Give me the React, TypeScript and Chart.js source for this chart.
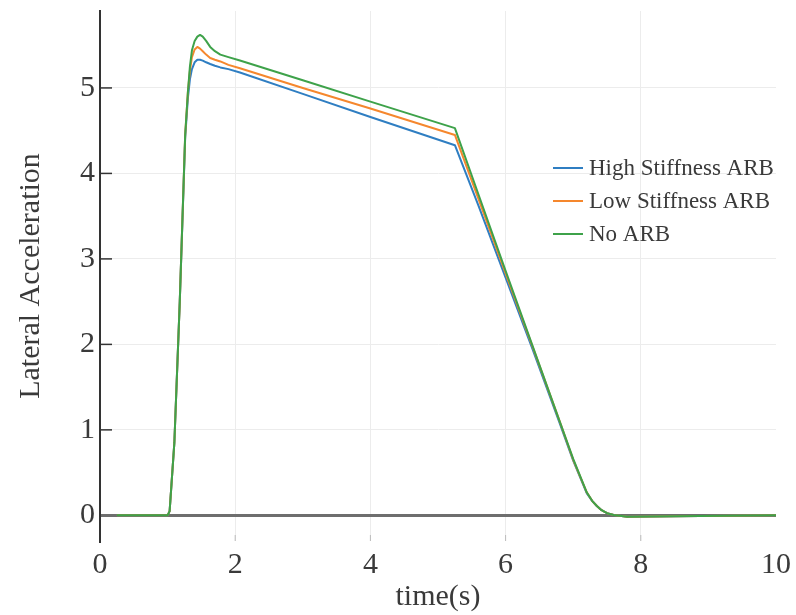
import React, { useEffect, useRef } from "react";
import { Chart, registerables } from "chart.js";

Chart.register(...registerables);

const time = [0.25, 1.0, 1.03, 1.1, 1.18, 1.26, 1.3, 1.33, 1.36, 1.4, 1.44, 1.48, 1.52, 1.57, 1.63, 1.7, 1.78, 1.9, 2.07, 3, 4, 5.25, 5.6, 6.0, 6.4, 6.8, 7.0, 7.2, 7.28, 7.35, 7.42, 7.5, 7.6, 7.8, 8.5, 10];
const highStiffness = [0, 0, 0.05, 0.85, 2.5, 4.42, 4.88, 5.1, 5.22, 5.3, 5.33, 5.33, 5.32, 5.3, 5.28, 5.26, 5.24, 5.22, 5.18, 4.93, 4.66, 4.33, 3.62, 2.78, 1.94, 1.08, 0.64, 0.26, 0.17, 0.11, 0.06, 0.025, 0.005, -0.015, -0.01, 0];
const lowStiffness = [0, 0, 0.05, 0.85, 2.5, 4.45, 4.95, 5.2, 5.36, 5.45, 5.48, 5.46, 5.43, 5.39, 5.35, 5.33, 5.31, 5.27, 5.23, 5.0, 4.76, 4.45, 3.7, 2.83, 1.97, 1.1, 0.65, 0.27, 0.17, 0.11, 0.06, 0.025, 0.005, -0.015, -0.01, 0];
const noArb = [0, 0, 0.05, 0.85, 2.5, 4.45, 4.95, 5.25, 5.44, 5.55, 5.6, 5.62, 5.6, 5.55, 5.48, 5.43, 5.39, 5.36, 5.32, 5.09, 4.84, 4.53, 3.75, 2.86, 1.98, 1.1, 0.66, 0.27, 0.17, 0.11, 0.06, 0.025, 0.005, -0.015, -0.01, 0];

const seriesNames = ["High Stiffness ARB", "Low Stiffness ARB", "No ARB"];
const seriesColors = ["#2f7ec2", "#f5872d", "#3ea24a"];
const xTicks = [0, 2, 4, 6, 8, 10];
const yTicks = [0, 1, 2, 3, 4, 5];

const FONT = "'Liberation Serif', 'Times New Roman', serif";

export default function App() {
  const ref = useRef<HTMLCanvasElement | null>(null);
  useEffect(() => {
    if (!ref.current) return;
    const all = [highStiffness, lowStiffness, noArb];
    const decor = {
      id: "decor",
      afterDatasetsDraw(chart: any) {
        const ctx = chart.ctx;
        const { left, bottom } = chart.chartArea;
        const ys = chart.scales.y;
        const xs = chart.scales.x;
        ctx.save();
        ctx.strokeStyle = "#333";
        ctx.lineWidth = 1.5;
        yTicks.forEach((v) => {
          if (v === 0) return;
          const py = ys.getPixelForValue(v);
          ctx.beginPath();
          ctx.moveTo(left, py);
          ctx.lineTo(left + 12, py);
          ctx.stroke();
        });
        ctx.strokeStyle = "#bbb";
        ctx.lineWidth = 1;
        xTicks.forEach((v) => {
          if (v === 0 || v === 10) return;
          const px = xs.getPixelForValue(v);
          ctx.beginPath();
          ctx.moveTo(px, bottom);
          ctx.lineTo(px, bottom - 6);
          ctx.stroke();
        });
        // legend
        ctx.font = "23px " + FONT;
        ctx.textBaseline = "middle";
        ctx.fillStyle = "#3a3a3a";
        const rows = [168, 201, 234];
        seriesNames.forEach((n, i) => {
          ctx.strokeStyle = seriesColors[i];
          ctx.lineWidth = 2;
          ctx.beginPath();
          ctx.moveTo(553, rows[i]);
          ctx.lineTo(583, rows[i]);
          ctx.stroke();
          ctx.fillText(n, 589, rows[i] + 1);
        });
        ctx.restore();
      },
    };
    const chart = new Chart(ref.current, {
      type: "line",
      data: {
        datasets: seriesNames.map((n, i) => ({
          label: n,
          data: time.map((t, j) => ({ x: t, y: all[i][j] })),
          borderColor: seriesColors[i],
          backgroundColor: seriesColors[i],
          borderWidth: 2,
          pointRadius: 0,
          tension: 0,
          borderJoinStyle: "round" as const,
          order: 2 - i,
        })),
      },
      options: {
        animation: false,
        responsive: false,
        maintainAspectRatio: false,
        layout: { padding: { left: 0, right: 20, top: 11, bottom: 0 } },
        plugins: { legend: { display: false }, tooltip: { enabled: false } },
        scales: {
          x: {
            type: "linear",
            min: 0,
            max: 10,
            afterBuildTicks: (s: any) => {
              s.ticks = xTicks.map((v) => ({ value: v }));
            },
            afterFit: (s: any) => {
              s.height = 74;
              s.paddingLeft = 0;
              s.paddingRight = 0;
            },
            border: { display: false },
            grid: {
              drawTicks: false,
              color: (c: any) => (c.tick && (c.tick.value === 0 || c.tick.value === 10) ? "rgba(0,0,0,0)" : "#ececec"),
              lineWidth: 1,
            },
            ticks: { padding: 6, color: "#3a3a3a", font: { family: FONT, size: 30 }, maxRotation: 0 },
            title: { display: true, text: "time(s)", color: "#3a3a3a", font: { family: FONT, size: 30 }, padding: { top: 0, bottom: 0 } },
          },
          y: {
            type: "linear",
            min: -0.3,
            max: 5.9,
            afterBuildTicks: (s: any) => {
              s.ticks = yTicks.map((v) => ({ value: v }));
            },
            afterFit: (s: any) => {
              s.width = 100;
              s.paddingTop = 0;
              s.paddingBottom = 0;
            },
            border: { display: true, color: "#333", width: 2 },
            grid: {
              drawTicks: false,
              color: (c: any) => (c.tick && c.tick.value === 0 ? "#6e6e6e" : "#ececec"),
              lineWidth: (c: any) => (c.tick && c.tick.value === 0 ? 3 : 1),
            },
            ticks: { padding: 5, color: "#3a3a3a", font: { family: FONT, size: 30 } },
            title: { display: true, text: "Lateral Acceleration", color: "#3a3a3a", font: { family: FONT, size: 30 }, padding: { top: 13, bottom: 0 } },
          },
        },
      },
      plugins: [decor],
    });
    return () => chart.destroy();
  }, []);
  return (
    <div style={{ position: "fixed", left: 0, top: 0, width: 796, height: 615, background: "#fff" }}>
      <canvas ref={ref} width={796} height={615} style={{ width: 796, height: 615 }} />
    </div>
  );
}
